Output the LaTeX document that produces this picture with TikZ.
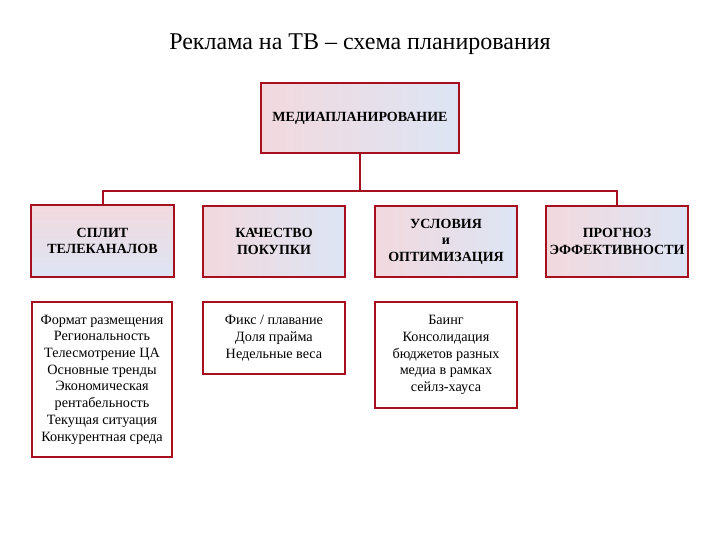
\documentclass[tikz,border=0pt]{standalone}
\usepackage{fontspec}
\setmainfont{Liberation Serif}
\definecolor{boxred}{HTML}{A50F1E}
\definecolor{boxpink}{HTML}{F2D9DE}
\definecolor{boxblue}{HTML}{C6D3EC}
\definecolor{boxlight}{HTML}{DDE5F4}
\tikzset{
  headbox/.style={draw=boxred, line width=2pt, align=center, inner sep=1pt,
    left color=boxpink, middle color=boxblue, right color=boxlight,
    font=\bfseries\fontsize{14}{16.5}\selectfont},
  listbox/.style={draw=boxred, line width=2pt, align=center, inner sep=1pt,
    fill=white, font=\fontsize{14.2}{16.7}\selectfont},
  link/.style={draw=boxred, line width=2pt}
}
\begin{document}
\begin{tikzpicture}[x=1pt, y=-1pt]
  \useasboundingbox (0,0) rectangle (720,540);
  \node (title) at (360,44) {\fontsize{24}{27}\selectfont Реклама на ТВ -- схема планирования};

  \node[headbox, minimum width=198pt, minimum height=70pt] (media) at (360,118) {МЕДИАПЛАНИРОВАНИЕ};

  \node[headbox, minimum width=143pt, minimum height=72pt, top color=boxpink, middle color=boxblue, bottom color=boxlight] (split) at (102.5,241) {СПЛИТ\\ТЕЛЕКАНАЛОВ};
  \node[headbox, minimum width=142pt, minimum height=71pt] (quality) at (274,241.5) {КАЧЕСТВО\\ПОКУПКИ};
  \node[headbox, minimum width=142pt, minimum height=71pt] (terms) at (446,241.5) {УСЛОВИЯ\\и\\ОПТИМИЗАЦИЯ};
  \node[headbox, minimum width=142pt, minimum height=71pt] (forecast) at (617,241.5) {ПРОГНОЗ\\ЭФФЕКТИВНОСТИ};

  \node[listbox, minimum width=140pt, minimum height=155pt] (splitlist) at (102,379.5) {Формат размещения\\Региональность\\Телесмотрение ЦА\\Основные тренды\\Экономическая\\рентабельность\\Текущая ситуация\\Конкурентная среда};
  \node[listbox, minimum width=142pt, minimum height=72pt] (qualitylist) at (274,338) {Фикс / плавание\\Доля прайма\\Недельные веса};
  \node[listbox, minimum width=142pt, minimum height=106pt] (termslist) at (446,355) {Баинг\\Консолидация\\бюджетов разных\\медиа в рамках\\сейлз-хауса};

  \draw[link] (media.south) -- ++(0,37) coordinate (hub);
  \draw[link] (split.north) |- (hub) -| (forecast.north);
\end{tikzpicture}
\end{document}
